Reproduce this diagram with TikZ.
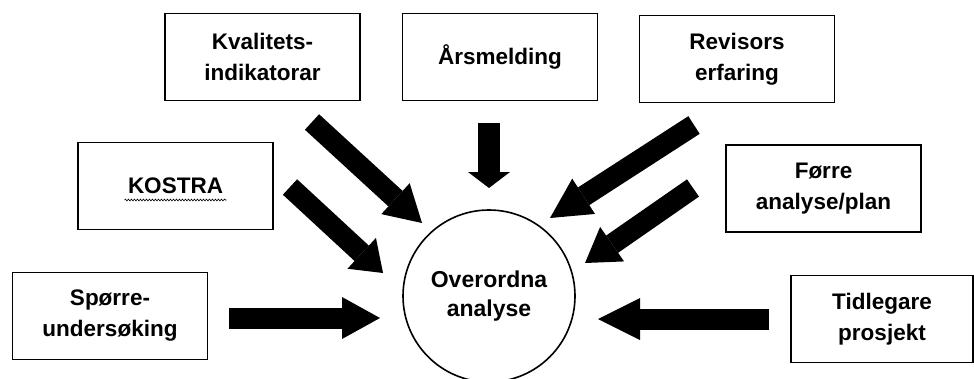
\documentclass[tikz,border=0pt]{standalone}
\usepackage{fontspec}
\setmainfont{Liberation Sans}
\usetikzlibrary{arrows.meta}
\usetikzlibrary{calc}
\usetikzlibrary{decorations.pathmorphing}
\tikzset{box/.style={draw, line width=1.6pt, minimum width=195pt, minimum height=87pt, inner sep=0pt, align=center,
    font=\fontsize{22.5pt}{31pt}\selectfont\bfseries}}
\tikzset{hub/.style={box, circle, minimum size=172pt, font=\fontsize{23pt}{29pt}\selectfont\bfseries}}
\tikzset{fat/.style={line width=21pt, -{Triangle[length=#1, width=42pt, line width=0pt]}}}
\begin{document}
\begin{tikzpicture}[x=1pt,y=-1pt]
\useasboundingbox (0,0) rectangle (974,378);
\node[box] (kval) at (262.5,57) {Kvalitets-\\indikatorar};
\node[box] (aars) at (500,57) {Årsmelding};
\node[box] (rev) at (737,59) {Revisors\\erfaring};
\node[box] (kostra) at (175.5,186) {KOSTRA};
\node[box] (forre) at (823.5,188.5) {Førre\\analyse/plan};
\node[box] (sporre) at (110,316) {Spørre-\\undersøking};
\node[box, minimum width=182pt] (tidl) at (882,319) {Tidlegare\\prosjekt};
\node[hub] (hub) at (489,296) {Overordna\\analyse};
\draw[decorate, decoration={snake, amplitude=0.9pt, segment length=3pt}, line width=0.6pt]
  ($(kostra)+(-51,14)$) -- ($(kostra)+(51,14)$);
% tails and tips of the block arrows
\coordinate (kvalT) at (312,122);   \coordinate (kvalH) at (422,223);
\coordinate (aarsT) at (489,123);   \coordinate (aarsH) at (489,188);
\coordinate (revT) at (694,125);    \coordinate (revH) at (550,218);
\coordinate (kostraT) at (290,187); \coordinate (kostraH) at (383,273);
\coordinate (forreT) at (693,188);  \coordinate (forreH) at (585,263);
\coordinate (sporreT) at (229,318); \coordinate (sporreH) at (380,318);
\coordinate (tidlT) at (769,319);   \coordinate (tidlH) at (598,319);
\draw[fat=36pt] (kvalT) -- (kvalH);
\draw[fat=16pt, line width=22pt] (aarsT) -- (aarsH);
\draw[fat=40pt] (revT) -- (revH);
\draw[fat=29pt] (kostraT) -- (kostraH);
\draw[fat=33pt] (forreT) -- (forreH);
\draw[fat=38pt] (sporreT) -- (sporreH);
\draw[fat=42pt] (tidlT) -- (tidlH);
\end{tikzpicture}
\end{document}
